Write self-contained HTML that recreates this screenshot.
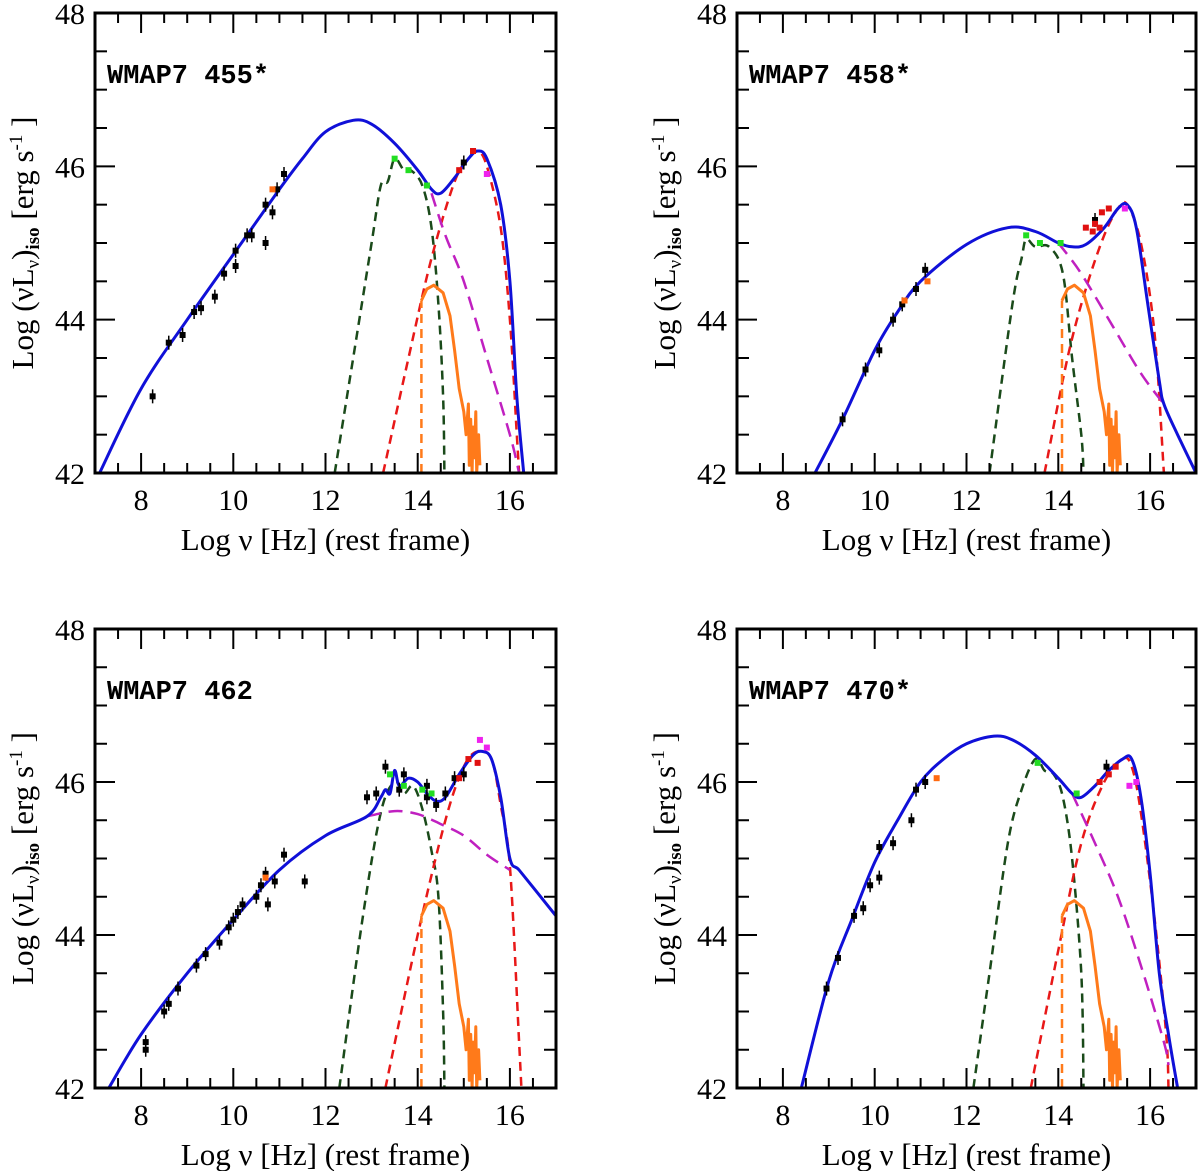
<!DOCTYPE html>
<html><head><meta charset="utf-8"><style>
body{margin:0;background:#fff;}
svg{display:block;}
text{font-family:"Liberation Serif",serif;fill:#000;}
.tl{font-size:31px;}
.xt{font-size:30px;}
.ti{font-family:"Liberation Mono",monospace;font-weight:bold;font-size:27px;}
</style></head><body>
<svg id="fig" width="1200" height="1171" viewBox="0 0 1200 1171" xmlns="http://www.w3.org/2000/svg"></svg>
<script>
// ---- data ----
const panelTitles = ["WMAP7 455*","WMAP7 458*","WMAP7 462","WMAP7 470*"];
const xTicks = [8,10,12,14,16];
const yTicks = [42,44,46,48];
const blue1 = [[7.1,42],[8,43.1],[9,44.0],[10,44.85],[11,45.7],[11.5,46.1],[12,46.45],[12.6,46.6],[13,46.55],[13.5,46.3],[14,45.95],[14.3,45.7],[14.5,45.65],[14.8,45.85],[15.1,46.1],[15.3,46.2],[15.5,46.1],[15.8,45.5],[16,44.5],[16.15,43.0],[16.3,42]];
const green1 = [[12.2,42],[12.6,43.5],[13,45],[13.2,45.75],[13.35,45.8],[13.5,46.1],[13.7,45.95],[13.85,45.95],[14.1,45.75],[14.3,45.2],[14.45,44.2],[14.55,43],[14.58,42]];
const red1 = [[13.25,42],[13.8,43.5],[14.3,44.8],[14.8,45.8],[15.1,46.1],[15.3,46.2],[15.5,46.0],[15.8,45.2],[16.0,44],[16.15,42.5],[16.2,42]];
const mag1 = [[14.3,45.65],[14.6,45.1],[15,44.5],[15.5,43.5],[16,42.5],[16.2,42]];
const blue2 = [[8.7,42],[9.3,42.7],[10,43.6],[10.5,44.1],[11,44.5],[12,44.98],[12.9,45.2],[13.5,45.15],[14,45.0],[14.3,44.95],[14.6,44.98],[15,45.2],[15.3,45.45],[15.5,45.5],[15.7,45.2],[15.95,44.2],[16.2,43.2],[16.3,42.9],[16.6,42.5],[17,42]];
const green2 = [[12.5,42],[13,44.2],[13.2,44.8],[13.3,45.05],[13.5,44.95],[13.8,44.95],[14.1,44.6],[14.3,43.5],[14.5,42.5],[14.55,42]];
const red2 = [[13.7,42],[14.2,43.5],[14.6,44.4],[15,45.1],[15.3,45.45],[15.5,45.5],[15.8,45.0],[16.1,43.8],[16.3,42]];
const mag2 = [[14.0,45.0],[14.5,44.6],[15.2,43.9],[15.8,43.3],[16.3,42.9]];
const blue3 = [[7.3,42],[8,42.7],[9,43.5],[10,44.2],[11,44.85],[12,45.3],[12.9,45.55],[13.2,45.8],[13.3,45.9],[13.4,45.85],[13.5,46.15],[13.6,45.95],[13.8,46.05],[14.0,46.0],[14.2,45.85],[14.4,45.75],[14.6,45.8],[14.9,46.1],[15.2,46.35],[15.4,46.4],[15.6,46.3],[15.8,45.8],[16.0,45.0],[16.2,44.85],[16.6,44.55],[17,44.25]];
const green3 = [[12.3,42],[12.8,44.2],[13.2,45.6],[13.5,46.0],[13.7,45.85],[13.9,45.95],[14.1,45.65],[14.3,45.1],[14.45,44.5],[14.55,43],[14.58,42]];
const red3 = [[13.3,42],[14,44.0],[14.6,45.5],[15,46.2],[15.3,46.4],[15.6,46.3],[15.8,45.7],[16.0,44.9],[16.2,42.6],[16.25,42]];
const mag3 = [[12.9,45.55],[13.5,45.62],[14,45.58],[14.5,45.45],[15,45.3],[15.5,45.05],[16,44.85]];
const blue4 = [[8.4,42],[9,43.4],[9.5,44.2],[10,44.95],[10.5,45.5],[11,46.0],[11.5,46.3],[12,46.5],[12.6,46.6],[13,46.55],[13.5,46.35],[14,46.05],[14.3,45.85],[14.5,45.8],[14.8,45.95],[15.1,46.15],[15.4,46.3],[15.6,46.3],[15.8,45.8],[16,44.8],[16.2,43.5],[16.4,42.7],[16.6,42]];
const green4 = [[12.15,42],[12.5,43.5],[12.9,45.2],[13.2,45.9],[13.5,46.3],[13.7,46.15],[13.9,46.1],[14.1,45.8],[14.3,45.0],[14.5,43.5],[14.55,42]];
const red4 = [[13.4,42],[14,43.8],[14.5,45.2],[15,46.0],[15.4,46.3],[15.6,46.2],[15.8,45.6],[16.1,44.2],[16.35,42.7],[16.4,42]];
const mag4 = [[14.3,45.85],[14.8,45.2],[15.3,44.5],[15.8,43.6],[16.3,42.6],[16.4,42.3]];
const disc = [[14.08,44.25],[14.2,44.4],[14.35,44.45],[14.55,44.35],[14.7,44.05],[14.8,43.6],[14.9,43.1],[15.0,42.8],[15.05,42.5],[15.1,42.9],[15.12,42.1],[15.15,42.7],[15.18,42.0],[15.2,42.6],[15.23,42.2],[15.26,42.8],[15.28,42.0],[15.32,42.5],[15.35,42.1]];
const pts1 = [[8.25,43.0,"k"],[8.6,43.7,"k"],[8.9,43.8,"k"],[9.15,44.1,"k"],[9.3,44.15,"k"],[9.6,44.3,"k"],[9.8,44.6,"k"],[10.05,44.7,"k"],[10.05,44.9,"k"],[10.3,45.1,"k"],[10.4,45.1,"k"],[10.7,45.0,"k"],[10.7,45.5,"k"],[10.85,45.4,"k"],[10.95,45.7,"k"],[11.1,45.9,"k"],[15.0,46.05,"k"],[10.85,45.7,"o"],[13.5,46.1,"g"],[13.8,45.95,"g"],[14.2,45.75,"g"],[14.9,45.95,"r"],[15.2,46.2,"r"],[15.5,45.9,"m"]];
const pts2 = [[9.3,42.7,"k"],[9.8,43.35,"k"],[10.1,43.6,"k"],[10.4,44.0,"k"],[10.6,44.2,"k"],[10.9,44.4,"k"],[11.1,44.65,"k"],[14.8,45.3,"k"],[10.65,44.25,"o"],[11.15,44.5,"o"],[13.3,45.1,"g"],[13.6,45.0,"g"],[14.05,45.0,"g"],[14.6,45.2,"r"],[14.75,45.15,"r"],[14.9,45.2,"r"],[14.8,45.25,"r"],[15.1,45.45,"r"],[14.95,45.4,"r"],[15.45,45.45,"m"]];
const pts3 = [[8.1,42.6,"k"],[8.1,42.5,"k"],[8.5,43.0,"k"],[8.6,43.1,"k"],[8.8,43.3,"k"],[9.2,43.6,"k"],[9.4,43.75,"k"],[9.7,43.9,"k"],[9.9,44.1,"k"],[10,44.2,"k"],[10.1,44.3,"k"],[10.2,44.4,"k"],[10.5,44.5,"k"],[10.6,44.65,"k"],[10.7,44.8,"k"],[10.75,44.4,"k"],[10.9,44.7,"k"],[11.1,45.05,"k"],[11.55,44.7,"k"],[12.9,45.8,"k"],[13.1,45.85,"k"],[13.3,46.2,"k"],[13.7,46.1,"k"],[13.6,45.9,"k"],[14.2,45.95,"k"],[14.2,45.8,"k"],[14.4,45.7,"k"],[14.6,45.85,"k"],[14.8,46.05,"k"],[15.0,46.1,"k"],[10.7,44.75,"o"],[13.4,46.1,"g"],[13.7,45.95,"g"],[14.1,45.9,"g"],[14.3,45.85,"g"],[14.9,46.05,"r"],[15.1,46.3,"r"],[15.3,46.25,"r"],[15.35,46.55,"m"],[15.5,46.45,"m"]];
const pts4 = [[8.95,43.3,"k"],[9.2,43.7,"k"],[9.55,44.25,"k"],[9.75,44.35,"k"],[9.9,44.65,"k"],[10.1,44.75,"k"],[10.1,45.15,"k"],[10.4,45.2,"k"],[10.8,45.5,"k"],[10.9,45.9,"k"],[11.1,46.0,"k"],[15.05,46.2,"k"],[11.35,46.05,"o"],[13.55,46.25,"g"],[14.4,45.85,"g"],[14.9,46.0,"r"],[15.1,46.1,"r"],[15.25,46.2,"r"],[15.55,45.95,"m"],[15.7,46.0,"m"]];

const panels = [
 {l:95,r:556,t:13,b:473,blue:blue1,green:green1,red:red1,mag:mag1,pts:pts1},
 {l:737,r:1196,t:13,b:473,blue:blue2,green:green2,red:red2,mag:mag2,pts:pts2},
 {l:95,r:556,t:629,b:1088,blue:blue3,green:green3,red:red3,mag:mag3,pts:pts3},
 {l:737,r:1196,t:629,b:1088,blue:blue4,green:green4,red:red4,mag:mag4,pts:pts4}
];
const colors = {k:"#000",o:"#ff6a10",g:"#22dd22",r:"#e01010",m:"#ee22ee"};
const NS="http://www.w3.org/2000/svg";
const svg=document.getElementById('fig');
function mk(tag,attrs,parent){const e=document.createElementNS(NS,tag);for(const k in attrs)e.setAttribute(k,attrs[k]);(parent||svg).appendChild(e);return e;}
function smooth(P){
  let d='M'+P[0][0].toFixed(1)+','+P[0][1].toFixed(1);
  for(let i=0;i<P.length-1;i++){
    const p0=P[Math.max(0,i-1)],p1=P[i],p2=P[i+1],p3=P[Math.min(P.length-1,i+2)];
    const c1=[p1[0]+(p2[0]-p0[0])/6,p1[1]+(p2[1]-p0[1])/6];
    const c2=[p2[0]-(p3[0]-p1[0])/6,p2[1]-(p3[1]-p1[1])/6];
    d+='C'+c1.map(v=>v.toFixed(1)).join(',')+' '+c2.map(v=>v.toFixed(1)).join(',')+' '+p2[0].toFixed(1)+','+p2[1].toFixed(1);
  }
  return d;
}

panels.forEach((p,i)=>{
  const g=mk('g',{});
  
  
  const X=v=>p.l+(v-7)*(p.r-p.l)/10;
  const Y=v=>p.b-(v-42)*(p.b-p.t)/6;
  const clip='c'+i;
  const cp=mk('clipPath',{id:clip},g);mk('rect',{x:p.l,y:p.t,width:p.r-p.l,height:p.b-p.t},cp);
  const path=(arr,col,w,dash,name,sm)=>{
    const P=arr.map(q=>[X(q[0]),Y(q[1])]);
    const d=sm?smooth(P):'M'+P.map(q=>q[0].toFixed(1)+','+q[1].toFixed(1)).join('L');
    const e=mk('path',{d:d,fill:'none',stroke:col,'stroke-width':w,'stroke-dasharray':dash||'none','stroke-linejoin':'round','clip-path':'url(#'+clip+')'},g);
    
    
  };
  path(p.green,'#1a4a1a',2.5,'9,6','torus-component',true);
  path(p.red,'#e81818',2.5,'9,6','ssc-component',true);
  path(p.mag,'#c020c0',2.5,'14,8','synchrotron-component',true);
  path([[14.08,42],[14.08,44.25]],'#ff7a1a',2.5,'9,6','disc-edge',false);
  path(disc,'#ff7a1a',3,'none','accretion-disc',false);
  path(p.blue,'#1010d8',3,'none','total-model',true);
  p.pts.forEach(q=>{
    const c=mk('rect',{x:X(q[0])-3,y:Y(q[1])-3,width:6,height:6,fill:colors[q[2]]},g);
    
    
    if(q[2]==='k'){mk('line',{x1:X(q[0]),x2:X(q[0]),y1:Y(q[1])-7,y2:Y(q[1])+7,stroke:'#000','stroke-width':1.5},g);}
  });
  const f=mk('rect',{x:p.l,y:p.t,width:p.r-p.l,height:p.b-p.t,fill:'none',stroke:'#000','stroke-width':3},g);
  
  
  for(let v=7.5;v<17;v+=0.5){const big=Number.isInteger(v)&&v%2===0;const L=big?20:10;
    mk('line',{x1:X(v),x2:X(v),y1:p.b,y2:p.b-L,stroke:'#000','stroke-width':2},g);
    mk('line',{x1:X(v),x2:X(v),y1:p.t,y2:p.t+L,stroke:'#000','stroke-width':2},g);}
  for(let v=42.5;v<48;v+=0.5){const big=Number.isInteger(v)&&v%2===0;const L=big?20:12;
    mk('line',{x1:p.l,x2:p.l+L,y1:Y(v),y2:Y(v),stroke:'#000','stroke-width':2},g);
    mk('line',{x1:p.r,x2:p.r-L,y1:Y(v),y2:Y(v),stroke:'#000','stroke-width':2},g);}
  xTicks.forEach(v=>{const t=mk('text',{x:X(v),y:p.b+37,'text-anchor':'middle',class:'xt'},g);t.textContent=v;
    });
  yTicks.forEach(v=>{const t=mk('text',{x:p.l-10,y:Y(v)+11,'text-anchor':'end',class:'xt'},g);t.textContent=v;
    });
  const ti=mk('text',{x:p.l+12,y:p.t+70,class:'ti'},g);ti.textContent=panelTitles[i];
  
  const xl=mk('text',{x:(p.l+p.r)/2,y:p.b+77,'text-anchor':'middle',class:'tl'},g);xl.textContent='Log \u03bd [Hz] (rest frame)';
  
  const cy=(p.t+p.b)/2, cx=p.l-62;
  const yl=mk('text',{x:cx,y:cy,'text-anchor':'middle',class:'tl',transform:'rotate(-90 '+cx+' '+cy+')'},g);
  yl.innerHTML='Log (\u03bdL<tspan font-size="19" dy="6">\u03bd</tspan><tspan dy="-6">)</tspan><tspan font-size="19" dy="6" font-weight="bold">iso</tspan><tspan dy="-6"> [erg s</tspan><tspan font-size="19" dy="-11">-1</tspan><tspan dy="11"> ]</tspan>';
  
});
</script>
</body></html>
